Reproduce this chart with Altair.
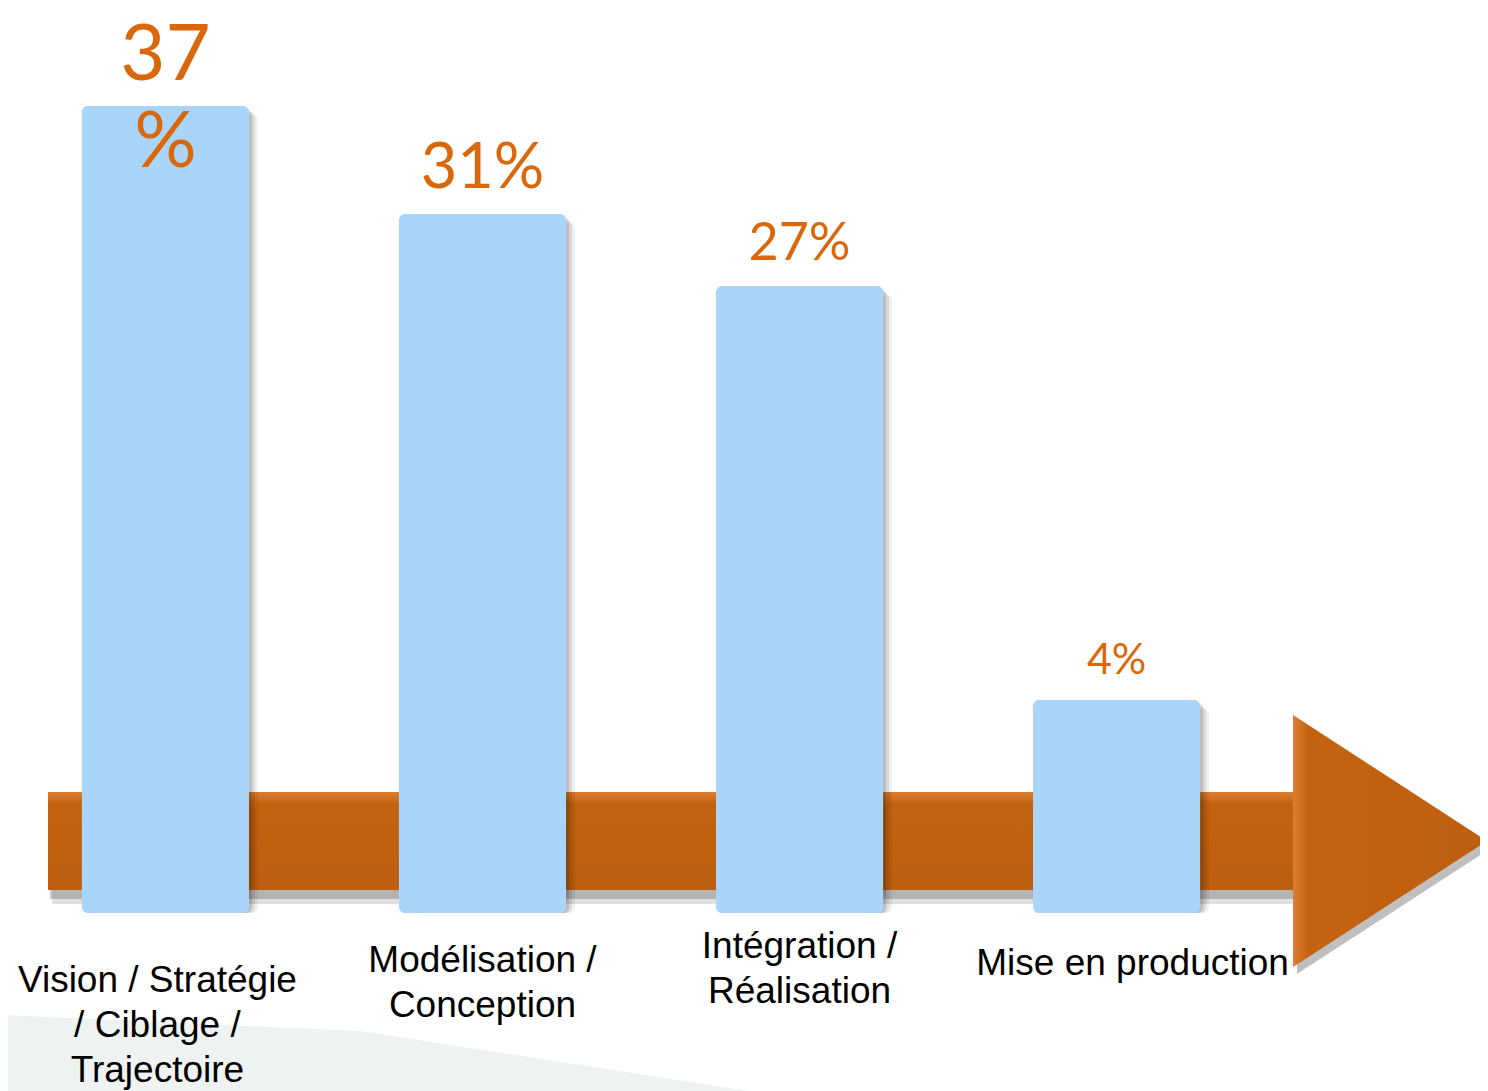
import altair as alt
import pandas as pd

# ---- data ----
categories = [
    "Vision / Stratégie\n/ Ciblage /\nTrajectoire",
    "Modélisation /\nConception",
    "Intégration /\nRéalisation",
    "Mise en production",
]
values = [37, 31, 27, 4]
value_labels = ["37\n%", "31%", "27%", "4%"]

df = pd.DataFrame({"etape": categories, "part": values, "label": value_labels, "ordre": [0, 1, 2, 3]})
one = pd.DataFrame({"k": [0]})

W, H = 1472, 1083
BAR = "#AAD5FB"
ORANGE_TXT = "#D9680C"

x = alt.X("etape:N", sort=categories, axis=None,
          scale=alt.Scale(range=[0, 1266], paddingInner=0.473, paddingOuter=0.233))
y = alt.Y("part:Q", axis=None, stack=False,
          scale=alt.Scale(domain=[0, 37], range=[764, 98], nice=False))

base = alt.Chart(df)

# background swoosh (decorative)
swoosh = alt.Chart(one).mark_point(
    shape="M-1,-0.09L-0.1,-0.05L1,0.12L-1,0.12Z", size=640000, filled=True,
    fill="#EEF2F0", strokeWidth=0, opacity=1
).encode(x=alt.value(392), y=alt.value(1043))

# arrow shadow
arrow_shadow1 = alt.Chart(one).mark_rect(color="#000000", opacity=0.12).encode(
    x=alt.value(44), x2=alt.value(1290), y=alt.value(788), y2=alt.value(896))
arrow_shadow2 = alt.Chart(one).mark_rect(color="#000000", opacity=0.2).encode(
    x=alt.value(42), x2=alt.value(1289), y=alt.value(786), y2=alt.value(891))
head_shape = "M-0.77,-1L0.77,0L-0.77,1Z"
head_shadow = alt.Chart(one).mark_point(
    shape=head_shape, size=63504, filled=True, fill="#000000", strokeWidth=0, opacity=0.25
).encode(x=alt.value(1386), y=alt.value(840))

body_grad = alt.Gradient(
    gradient="linear", x1=0, y1=0, x2=0, y2=1,
    stops=[alt.GradientStop(offset=0, color="#DE7D33"),
           alt.GradientStop(offset=0.12, color="#C4630F"),
           alt.GradientStop(offset=1, color="#BD5E10")])
arrow_body = alt.Chart(one).mark_rect(fill=body_grad).encode(
    x=alt.value(40), x2=alt.value(1287), y=alt.value(784), y2=alt.value(882))

head_grad = alt.Gradient(
    gradient="linear", x1=0, y1=0, x2=1, y2=0,
    stops=[alt.GradientStop(offset=0, color="#DE7D33"),
           alt.GradientStop(offset=0.08, color="#C4630F"),
           alt.GradientStop(offset=1, color="#BE5F10")])
arrow_head = alt.Chart(one).mark_point(
    shape=head_shape, size=63504, filled=True, fill=head_grad, strokeWidth=0, opacity=1
).encode(x=alt.value(1382), y=alt.value(833))

# bar shadows + bars
shadows = [
    base.mark_bar(color="#000000", opacity=op, xOffset=k, yOffset=k, cornerRadius=6).encode(
        x=x, y=y, y2=alt.value(905))
    for k, op in [(9, 0.06), (6, 0.09), (3, 0.13)]
]
bars = base.mark_bar(color=BAR, cornerRadius=6).encode(x=x, y=y, y2=alt.value(905))

size_scale = alt.Scale(domain=[4, 27, 31, 37], range=[43, 52, 63, 78])
labels = base.mark_text(
    font="Lato", color=ORANGE_TXT, baseline="alphabetic", dy=-26,
    lineBreak="\n", lineHeight=87
).encode(x=x, y=y, text="label:N", size=alt.Size("part:Q", scale=size_scale, legend=None))

# category labels under the bars
cat_pos = [(984, -8), (964, 0), (950, 0), (967, 16)]
cat_layers = [
    base.transform_filter(alt.datum.ordre == i).mark_text(
        font="Liberation Sans", fontSize=37, color="#000000", baseline="alphabetic",
        lineBreak="\n", lineHeight=45, dx=dx
    ).encode(x=x, y=alt.value(ly), text="etape:N")
    for i, (ly, dx) in enumerate(cat_pos)
]

chart = alt.layer(
    swoosh, arrow_shadow1, arrow_shadow2, head_shadow, arrow_body, arrow_head,
    *shadows, bars, labels, *cat_layers
).properties(
    width=W, height=H, padding=0, autosize="none", background="white"
).configure_view(stroke="transparent")

chart.save("out.html", embed_options={"renderer": "svg", "actions": False})
